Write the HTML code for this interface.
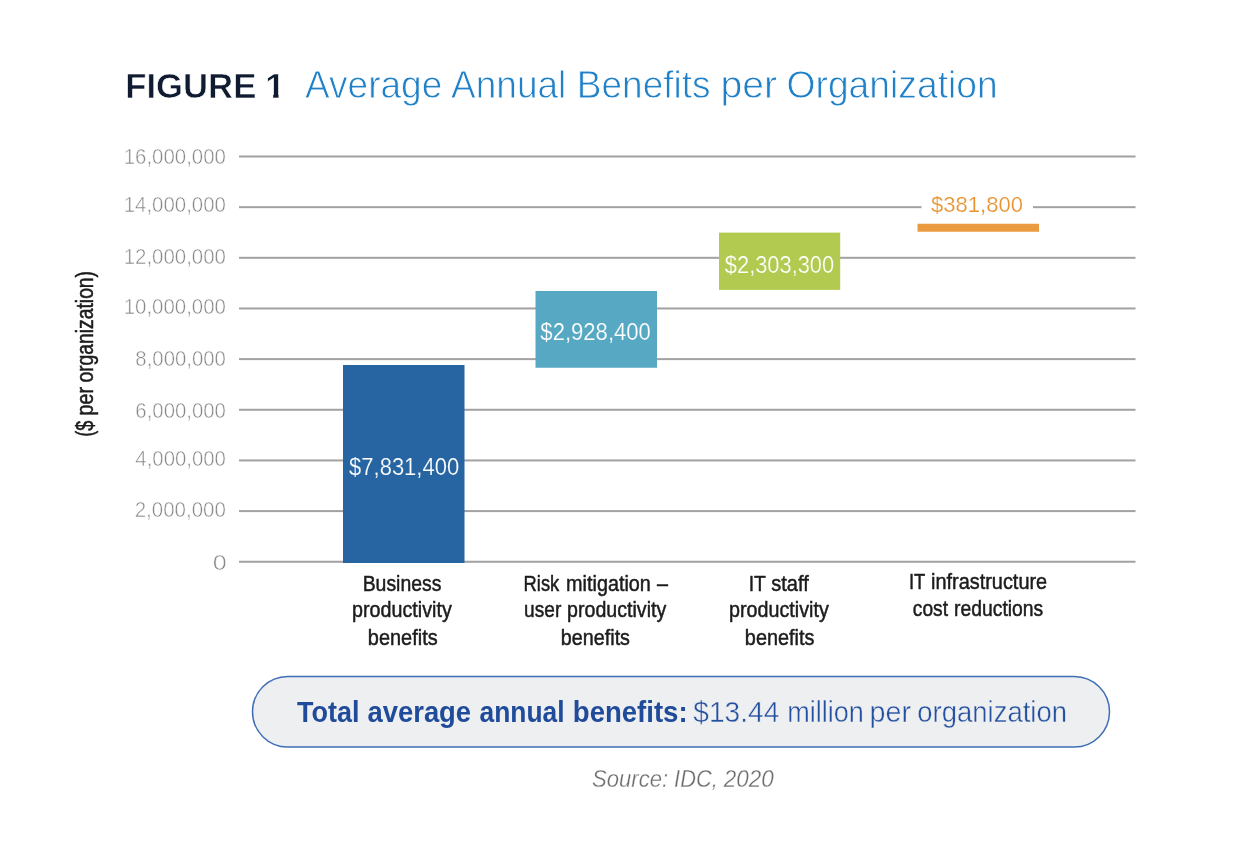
<!DOCTYPE html>
<html lang="en"><head><meta charset="utf-8"><title>Figure 1 - Average Annual Benefits per Organization</title>
<style>html,body{margin:0;padding:0;background:#fff;}body{width:1240px;height:845px;overflow:hidden;}svg{display:block;}text{font-family:"Liberation Sans",Arial,Helvetica,sans-serif;white-space:pre;}</style>
</head><body>
<svg width="1240" height="845" viewBox="0 0 1240 845">
<defs><clipPath id="one"><path d="M255 60H278.5V104H273.2V86H255Z"/></clipPath></defs>
<rect width="1240" height="845" fill="#ffffff"/>
<rect x="239" y="155.50" width="896.5" height="2" fill="#a3a1a1"/>
<rect x="239" y="206.16" width="896.5" height="2" fill="#a3a1a1"/>
<rect x="239" y="256.81" width="896.5" height="2" fill="#a3a1a1"/>
<rect x="239" y="307.47" width="896.5" height="2" fill="#a3a1a1"/>
<rect x="239" y="358.12" width="896.5" height="2" fill="#a3a1a1"/>
<rect x="239" y="408.78" width="896.5" height="2" fill="#a3a1a1"/>
<rect x="239" y="459.44" width="896.5" height="2" fill="#a3a1a1"/>
<rect x="239" y="510.09" width="896.5" height="2" fill="#a3a1a1"/>
<rect x="239" y="560.75" width="896.5" height="2" fill="#a3a1a1"/>
<rect x="343" y="365" width="121.5" height="198" fill="#2765a2"/>
<rect x="535.5" y="291" width="121.5" height="76.75" fill="#57a9c3"/>
<rect x="719" y="232.6" width="121.2" height="57.3" fill="#b1ca4f"/>
<rect x="921.5" y="190" width="111.5" height="30" fill="#ffffff"/>
<rect x="917.5" y="223.75" width="121.5" height="8" fill="#eb9b3f"/>
<rect x="252.5" y="676.5" width="857" height="70.5" rx="35.25" ry="35.25" fill="#eeeff1" stroke="#3f6eb6" stroke-width="1.5"/>
<text y="98.1" font-size="35.8" fill="#101b31" font-weight="bold" stroke="#ffffff" stroke-width="0.6" stroke-linejoin="round"><tspan x="125.3" textLength="131" lengthAdjust="spacingAndGlyphs">FIGURE</tspan></text>
<text x="265.2" y="98.1" font-size="35.8" fill="#101b31" font-weight="bold" stroke="#ffffff" stroke-width="0.6" clip-path="url(#one)">1</text>
<text y="98" font-size="39.6" fill="#2080c8" stroke="#ffffff" stroke-width="0.8" stroke-linejoin="round"><tspan x="304.98" textLength="137.32" lengthAdjust="spacingAndGlyphs">Average</tspan> <tspan x="451.1" textLength="115.22" lengthAdjust="spacingAndGlyphs">Annual</tspan> <tspan x="576.78" textLength="133.76" lengthAdjust="spacingAndGlyphs">Benefits</tspan> <tspan x="720.54" textLength="56.62" lengthAdjust="spacingAndGlyphs">per</tspan> <tspan x="786.56" textLength="211.14" lengthAdjust="spacingAndGlyphs">Organization</tspan></text>
<text y="163.5" font-size="22" fill="#888888" stroke="#ffffff" stroke-width="0.5" stroke-linejoin="round"><tspan x="123.7" textLength="102.2" lengthAdjust="spacingAndGlyphs">16,000,000</tspan></text>
<text y="212.4" font-size="22" fill="#888888" stroke="#ffffff" stroke-width="0.5" stroke-linejoin="round"><tspan x="123.7" textLength="102.2" lengthAdjust="spacingAndGlyphs">14,000,000</tspan></text>
<text y="263.5" font-size="22" fill="#888888" stroke="#ffffff" stroke-width="0.5" stroke-linejoin="round"><tspan x="123.7" textLength="102.2" lengthAdjust="spacingAndGlyphs">12,000,000</tspan></text>
<text y="313.7" font-size="22" fill="#888888" stroke="#ffffff" stroke-width="0.5" stroke-linejoin="round"><tspan x="123.7" textLength="102.2" lengthAdjust="spacingAndGlyphs">10,000,000</tspan></text>
<text y="365.9" font-size="22" fill="#888888" stroke="#ffffff" stroke-width="0.5" stroke-linejoin="round"><tspan x="135.35" textLength="90.55" lengthAdjust="spacingAndGlyphs">8,000,000</tspan></text>
<text y="417.6" font-size="22" fill="#888888" stroke="#ffffff" stroke-width="0.5" stroke-linejoin="round"><tspan x="135.35" textLength="90.55" lengthAdjust="spacingAndGlyphs">6,000,000</tspan></text>
<text y="466" font-size="22" fill="#888888" stroke="#ffffff" stroke-width="0.5" stroke-linejoin="round"><tspan x="135.35" textLength="90.55" lengthAdjust="spacingAndGlyphs">4,000,000</tspan></text>
<text y="516.7" font-size="22" fill="#888888" stroke="#ffffff" stroke-width="0.5" stroke-linejoin="round"><tspan x="134.7" textLength="91.2" lengthAdjust="spacingAndGlyphs">2,000,000</tspan></text>
<text y="569.8" font-size="22" fill="#888888" stroke="#ffffff" stroke-width="0.5" stroke-linejoin="round"><tspan x="212.84" textLength="13.96" lengthAdjust="spacingAndGlyphs">0</tspan></text>
<text y="93.1" font-size="23" fill="#1c1c1c" stroke="#1c1c1c" stroke-width="0.5" stroke-linejoin="round" transform="rotate(-90)"><tspan x="-436.78" textLength="16.1" lengthAdjust="spacingAndGlyphs">($</tspan> <tspan x="-415.38" textLength="28.3" lengthAdjust="spacingAndGlyphs">per</tspan> <tspan x="-382.56" textLength="111.58" lengthAdjust="spacingAndGlyphs">organization)</tspan></text>
<text y="474.5" font-size="23.5" fill="#ffffff" stroke="#2765a2" stroke-width="0.2" stroke-linejoin="round"><tspan x="349.1" textLength="110.05" lengthAdjust="spacingAndGlyphs">$7,831,400</tspan></text>
<text y="340.3" font-size="23.5" fill="#ffffff" stroke="#57a9c3" stroke-width="0.2" stroke-linejoin="round"><tspan x="540.35" textLength="110.55" lengthAdjust="spacingAndGlyphs">$2,928,400</tspan></text>
<text y="272.5" font-size="23.5" fill="#ffffff" stroke="#b1ca4f" stroke-width="0.2" stroke-linejoin="round"><tspan x="724.85" textLength="109.3" lengthAdjust="spacingAndGlyphs">$2,303,300</tspan></text>
<text y="211.7" font-size="22.8" fill="#e8932f" stroke="#ffffff" stroke-width="0.2" stroke-linejoin="round"><tspan x="931.1" textLength="91.8" lengthAdjust="spacingAndGlyphs">$381,800</tspan></text>
<text y="590.9" font-size="22" fill="#1c1c1c" stroke="#1c1c1c" stroke-width="0.5" stroke-linejoin="round"><tspan x="362.7" textLength="78.7" lengthAdjust="spacingAndGlyphs">Business</tspan></text>
<text y="617.4" font-size="22" fill="#1c1c1c" stroke="#1c1c1c" stroke-width="0.5" stroke-linejoin="round"><tspan x="352.1" textLength="99.65" lengthAdjust="spacingAndGlyphs">productivity</tspan></text>
<text y="644.5" font-size="22" fill="#1c1c1c" stroke="#1c1c1c" stroke-width="0.5" stroke-linejoin="round"><tspan x="367.85" textLength="69.8" lengthAdjust="spacingAndGlyphs">benefits</tspan></text>
<text y="590.9" font-size="22" fill="#1c1c1c" stroke="#1c1c1c" stroke-width="0.5" stroke-linejoin="round"><tspan x="523.6" textLength="35.65" lengthAdjust="spacingAndGlyphs">Risk</tspan> <tspan x="566.1" textLength="84.8" lengthAdjust="spacingAndGlyphs">mitigation</tspan> <tspan x="657" textLength="11" lengthAdjust="spacingAndGlyphs">–</tspan></text>
<text y="617.4" font-size="22" fill="#1c1c1c" stroke="#1c1c1c" stroke-width="0.5" stroke-linejoin="round"><tspan x="524.1" textLength="37.15" lengthAdjust="spacingAndGlyphs">user</tspan> <tspan x="567.1" textLength="99.15" lengthAdjust="spacingAndGlyphs">productivity</tspan></text>
<text y="644.5" font-size="22" fill="#1c1c1c" stroke="#1c1c1c" stroke-width="0.5" stroke-linejoin="round"><tspan x="560.85" textLength="69.15" lengthAdjust="spacingAndGlyphs">benefits</tspan></text>
<text y="590.9" font-size="22" fill="#1c1c1c" stroke="#1c1c1c" stroke-width="0.5" stroke-linejoin="round"><tspan x="748.7" textLength="16.8" lengthAdjust="spacingAndGlyphs">IT</tspan> <tspan x="771.25" textLength="37.5" lengthAdjust="spacingAndGlyphs">staff</tspan></text>
<text y="617.4" font-size="22" fill="#1c1c1c" stroke="#1c1c1c" stroke-width="0.5" stroke-linejoin="round"><tspan x="729.1" textLength="99.65" lengthAdjust="spacingAndGlyphs">productivity</tspan></text>
<text y="644.5" font-size="22" fill="#1c1c1c" stroke="#1c1c1c" stroke-width="0.5" stroke-linejoin="round"><tspan x="744.85" textLength="69.55" lengthAdjust="spacingAndGlyphs">benefits</tspan></text>
<text y="588.75" font-size="22" fill="#1c1c1c" stroke="#1c1c1c" stroke-width="0.5" stroke-linejoin="round"><tspan x="908.95" textLength="16.05" lengthAdjust="spacingAndGlyphs">IT</tspan> <tspan x="931.1" textLength="116.05" lengthAdjust="spacingAndGlyphs">infrastructure</tspan></text>
<text y="615.5" font-size="22" fill="#1c1c1c" stroke="#1c1c1c" stroke-width="0.5" stroke-linejoin="round"><tspan x="912.85" textLength="35.15" lengthAdjust="spacingAndGlyphs">cost</tspan> <tspan x="954.1" textLength="89.15" lengthAdjust="spacingAndGlyphs">reductions</tspan></text>
<text y="722.1" font-size="29.5" fill="#1f4b9a" font-weight="bold"><tspan x="297.12" textLength="62.44" lengthAdjust="spacingAndGlyphs">Total</tspan> <tspan x="367.48" textLength="103.66" lengthAdjust="spacingAndGlyphs">average</tspan> <tspan x="479.48" textLength="85.06" lengthAdjust="spacingAndGlyphs">annual</tspan> <tspan x="572.82" textLength="114.76" lengthAdjust="spacingAndGlyphs">benefits:</tspan></text>
<text y="722.1" font-size="29.5" fill="#2450a0" stroke="#eeeff1" stroke-width="0.45" stroke-linejoin="round"><tspan x="693.36" textLength="85.92" lengthAdjust="spacingAndGlyphs">$13.44</tspan> <tspan x="787.2" textLength="76.74" lengthAdjust="spacingAndGlyphs">million</tspan> <tspan x="869.56" textLength="41.46" lengthAdjust="spacingAndGlyphs">per</tspan> <tspan x="917.32" textLength="149.74" lengthAdjust="spacingAndGlyphs">organization</tspan></text>
<text y="787.2" font-size="23.5" fill="#6c6c6c" font-style="italic" stroke="#ffffff" stroke-width="0.3" stroke-linejoin="round"><tspan x="592.1" textLength="75.95" lengthAdjust="spacingAndGlyphs">Source:</tspan> <tspan x="674.1" textLength="43.6" lengthAdjust="spacingAndGlyphs">IDC,</tspan> <tspan x="723.75" textLength="50" lengthAdjust="spacingAndGlyphs">2020</tspan></text>
</svg>
</body></html>
